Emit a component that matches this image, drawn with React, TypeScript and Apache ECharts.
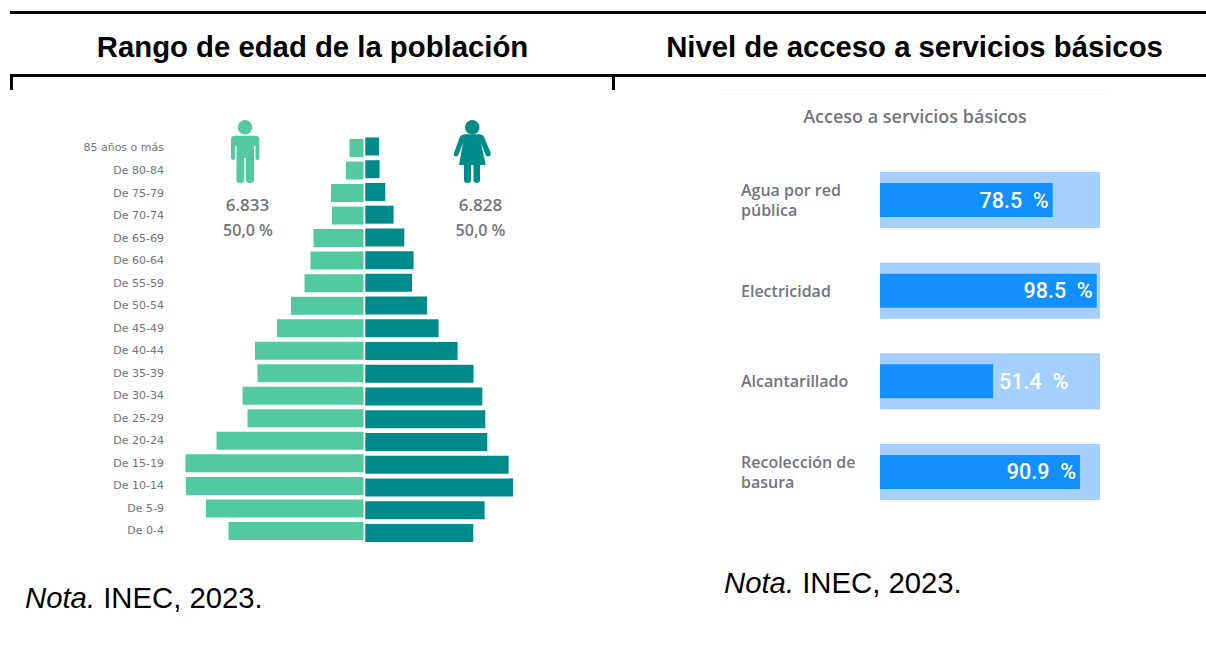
import React, { useEffect, useRef } from "react";
import * as echarts from "echarts";

const ageGroups = ["85 años o más","De 80-84","De 75-79","De 70-74","De 65-69","De 60-64","De 55-59","De 50-54","De 45-49","De 40-44","De 35-39","De 30-34","De 25-29","De 20-24","De 15-19","De 10-14","De 5-9","De 0-4"];
// Bar lengths (the original has no value axis)
const maleValues = [14,17.5,32.5,31.5,50,53,59,72.5,86.5,108.5,106,121,116,147,178,177.5,157.5,135];
const femaleValues = [13.7,14.3,20,28.3,39,48.3,46.7,61.7,73.3,92.3,108.3,117,120,122,143.3,147.7,119.3,108];
const services = ["Agua por red\npública","Electricidad","Alcantarillado","Recolección de\nbasura"];
const serviceValues = [78.5,98.5,51.4,90.9];
const serviceFull = [100,100,100,100];

const MALE = "#52C9A0", FEMALE = "#008B8B", GREY = "#6F7680", BLUE = "#1390FF", LIGHT = "#A3D0FF";
const MALE_D = "M235 135.7L255.3 135.7Q259.3 135.7 259.3 139.7L259.3 158Q259.3 160 257.5 160Q255.5 160 255.5 158L255.5 146L254 146L254 180Q254 183 250 183Q246 183 246 180L246 158L244.3 158L244.3 180Q244.3 183 240.5 183Q236.5 183 236.5 180L236.5 146L235 146L235 158Q235 160 233 160Q231 160 231 158L231 139.7Q231 135.7 235 135.7Z";
const FEMALE_D = "M465 134.3L479 134.3Q483 134.3 484.5 138L490.7 153Q491 156 488.5 156.5Q486.5 157 485.5 154.5L481 143L485.7 165L480 165L480 180Q480 183 476.7 183Q473.5 183 473.5 180L473.5 165L471 165L471 180Q471 183 467.5 183Q464 183 464 180L464 165L459 165L463 143L458.5 154.5Q457.5 157 455.5 156.5Q453.5 156 454 153L459.5 138Q461 134.3 465 134.3Z";

const ARIAL = "'Liberation Sans', Arial, sans-serif";
const UI = "'Open Sans', 'Noto Sans', sans-serif";

function headerRect(x: number, y: number, w: number, h: number) {
  return { type: "rect", shape: { x, y, width: w, height: h }, style: { fill: "#000" } };
}
function txt(x: number, y: number, text: string, font: any, fill: string, align = "center") {
  return { type: "text", x, y, style: { text, fill, align, verticalAlign: "middle", ...font } };
}
function nota(x: number, y: number) {
  return {
    type: "text", x, y,
    style: {
      text: "{i|Nota.} INEC, 2023.", fill: "#000", align: "left", verticalAlign: "middle",
      fontFamily: ARIAL, fontSize: 29.3,
      rich: { i: { fontStyle: "italic", fontFamily: ARIAL, fontSize: 29.3, fill: "#000" } },
    },
  };
}

export default function App() {
  const ref = useRef<HTMLDivElement>(null);
  useEffect(() => {
    document.body.style.margin = "0";
    echarts.graphic.registerShape("manIcon", echarts.graphic.extendPath(MALE_D, {}) as any);
    echarts.graphic.registerShape("womanIcon", echarts.graphic.extendPath(FEMALE_D, {}) as any);
    const chart = echarts.init(ref.current!, null, { renderer: "svg" });
    const catAxisBase = { type: "category", inverse: true, axisLine: { show: false }, axisTick: { show: false }, splitLine: { show: false } };
    const valAxisBase = { type: "value", show: false, splitLine: { show: false } };
    chart.setOption({
      animation: false,
      backgroundColor: "#fff",
      grid: [
        { left: 183, top: 136.7, width: 180.5, height: 405.5 },
        { left: 365.3, top: 135.1, width: 160, height: 409.2 },
        { left: 880, top: 154.7, width: 220, height: 362.6 },
      ],
      xAxis: [
        { ...valAxisBase, gridIndex: 0, inverse: true, min: 0, max: 180.5 },
        { ...valAxisBase, gridIndex: 1, min: 0, max: 160 },
        { ...valAxisBase, gridIndex: 2, min: 0, max: 100 },
      ],
      yAxis: [
        { ...catAxisBase, gridIndex: 0, position: "left", data: ageGroups,
          axisLabel: { show: true, interval: 0, margin: 19, color: GREY, fontSize: 11, fontFamily: "'DejaVu Sans', sans-serif", align: "right" } },
        { ...catAxisBase, gridIndex: 1, data: ageGroups, axisLabel: { show: false } },
        { ...catAxisBase, gridIndex: 2, data: services,
          axisLabel: { show: true, interval: 0, margin: 139, align: "left", color: GREY, fontSize: 16, lineHeight: 20, fontWeight: 600, fontFamily: UI } },
        { ...catAxisBase, gridIndex: 2, data: services, axisLabel: { show: false } },
      ],
      series: [
        { type: "bar", name: "Hombres", xAxisIndex: 0, yAxisIndex: 0, data: maleValues, barWidth: 18, itemStyle: { color: MALE } },
        { type: "bar", name: "Mujeres", xAxisIndex: 1, yAxisIndex: 1, data: femaleValues, barWidth: 18, itemStyle: { color: FEMALE } },
        { type: "bar", name: "Total", xAxisIndex: 2, yAxisIndex: 3, data: serviceFull, barWidth: 56, z: 1, itemStyle: { color: LIGHT } },
        { type: "bar", name: "Acceso", xAxisIndex: 2, yAxisIndex: 2, barWidth: 34, z: 2, itemStyle: { color: BLUE },
          data: serviceValues.map((v) => ({
            value: v,
            label: v < 60
              ? { position: "right", distance: 6 }
              : { position: "insideRight", distance: 4 },
          })),
          label: { show: true, color: "#fff", fontSize: 21.5, fontWeight: 500, fontFamily: "Roboto, sans-serif", formatter: (p: any) => p.value.toFixed(1) + "\u00A0\u00A0%" },
        },
      ],
      graphic: { elements: [
        headerRect(10, 11, 1196, 3),
        headerRect(10, 74, 1196, 3),
        headerRect(10, 74, 3, 16),
        headerRect(612, 74, 3, 16),
        txt(312.5, 46, "Rango de edad de la población", { fontFamily: ARIAL, fontWeight: "bold", fontSize: 29.3 }, "#000"),
        txt(914.5, 46, "Nivel de acceso a servicios básicos", { fontFamily: ARIAL, fontWeight: "bold", fontSize: 29.3 }, "#000"),
        { type: "rect", shape: { x: 720, y: 90, width: 390, height: 1 }, style: { fill: "#F6F6F6" } },
        txt(915, 116, "Acceso a servicios básicos", { fontFamily: UI, fontWeight: 600, fontSize: 18 }, GREY),
        { type: "manIcon", style: { fill: MALE } },
        { type: "circle", shape: { cx: 245, cy: 127.3, r: 7.2 }, style: { fill: MALE } },
        { type: "womanIcon", style: { fill: FEMALE } },
        { type: "circle", shape: { cx: 472.3, cy: 127.3, r: 7.2 }, style: { fill: FEMALE } },
        txt(247.5, 204, "6.833", { fontFamily: UI, fontWeight: 600, fontSize: 17 }, GREY),
        txt(248, 230, "50,0 %", { fontFamily: UI, fontWeight: 600, fontSize: 16 }, GREY),
        txt(480.5, 204, "6.828", { fontFamily: UI, fontWeight: 600, fontSize: 17 }, GREY),
        txt(480.5, 230, "50,0 %", { fontFamily: UI, fontWeight: 600, fontSize: 16 }, GREY),
        nota(25, 597),
        nota(724, 582),
      ] },
    });
    return () => chart.dispose();
  }, []);
  return <div ref={ref} style={{ position: "fixed", left: 0, top: 0, width: 1206, height: 649 }} />;
}
